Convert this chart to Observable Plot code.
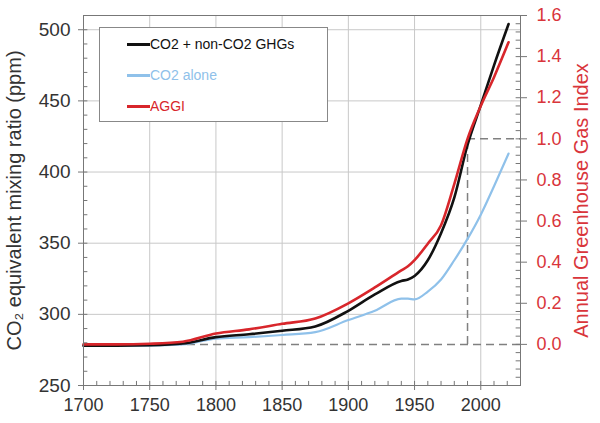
<!DOCTYPE html>
<html><head><meta charset="utf-8">
<script src="https://cdn.jsdelivr.net/npm/d3@7"></script>
<script src="https://cdn.jsdelivr.net/npm/@observablehq/plot@0.6"></script>
<style>
body{margin:0;background:#fff;font-family:"Liberation Sans",Arial,sans-serif;}
#wrap{position:relative;width:600px;height:423px;overflow:hidden;}
#legend{position:absolute;left:99px;top:27px;width:227px;height:93px;border:1.5px solid #888;background:#fff;font-size:14px;}
.item{position:absolute;left:27px;display:flex;align-items:center;height:16px;}
.sw{width:23px;height:0;border-top:3px solid;}
</style></head><body><div id="wrap"><div id="chart"></div><div id="legend"></div></div>
<script>
// ---- data ----
const years  = [1700, 1725, 1750, 1775, 1800, 1825, 1850, 1875, 1900, 1920, 1940, 1945, 1950, 1960, 1970, 1980, 1990, 2000, 2010, 2021];
const co2eq  = [278, 278, 278.3, 279.5, 284, 286, 288.5, 291.5, 302.5, 314, 323.5, 324.5, 327, 338, 357, 382, 419, 447, 475, 504];
const co2    = [278, 278, 278, 278.8, 283, 284, 285.5, 287.5, 296, 302.5, 311, 311, 310.5, 316, 324.5, 338, 353, 370, 390, 413];
const aggi   = [0, 0, 0.003, 0.013, 0.053, 0.073, 0.10, 0.126, 0.20, 0.277, 0.36, 0.38, 0.41, 0.49, 0.58, 0.78, 1.0, 1.16, 1.30, 1.47];

const seriesNames  = ["CO2 + non-CO2 GHGs", "CO2 alone", "AGGI"];
const seriesColors = ["#111111", "#8fc1ea", "#d8262b"];

const xTicks    = [1700, 1750, 1800, 1850, 1900, 1950, 2000];
const yTicks    = [250, 300, 350, 400, 450, 500];
const aggiTicks = [0.0, 0.2, 0.4, 0.6, 0.8, 1.0, 1.2, 1.4, 1.6];
const baseYear  = 1990;

const xDomain    = [1700, 2030];
const ppmDomain  = [250, 510];
const aggiDomain = [-0.2, 1.6];

// AGGI -> left-axis (ppm) coordinates
const toPpm = d3.scaleLinear().domain(aggiDomain).range(ppmDomain);

const rows = years.map((y, i) => ({year: y, co2eq: co2eq[i], co2: co2[i], aggi: aggi[i]}));

const xMinor = d3.range(1700, 2031, 10);
const yMinor = d3.range(250, 511, 10);
const aMinor = d3.range(-0.2, 1.6001, 0.04).map(v => +v.toFixed(2));
// inward minor tick length expressed as a small fraction of each domain
const xLen = (xDomain[1] - xDomain[0]) * 0.01;
const yLen = (ppmDomain[1] - ppmDomain[0]) * 0.011;

const red = "#d9353b";
const axisStroke = "#777";
const font = "Liberation Sans, Arial, sans-serif";
const fmtAggi = v => { const a = toPpm.invert(v); return Math.abs(a) < 1e-9 ? "0.0" : a.toFixed(1); };

const chart = Plot.plot({
  width: 600, height: 423,
  marginLeft: 83, marginRight: 80, marginTop: 15, marginBottom: 38,
  style: {fontFamily: font, background: "#fff"},
  x: {domain: xDomain},
  y: {domain: ppmDomain},
  marks: [
    Plot.gridX(xTicks.slice(1), {stroke: "#c8c8c8", strokeOpacity: 1}),
    Plot.gridY(yTicks.slice(1), {stroke: "#c8c8c8", strokeOpacity: 1}),
    Plot.ruleY([toPpm(0)], {stroke: "#808080", strokeWidth: 1.5, strokeDasharray: "8,5"}),
    Plot.ruleX([baseYear], {y1: toPpm(0), y2: toPpm(1), stroke: "#808080", strokeWidth: 1.5, strokeDasharray: "8,5"}),
    Plot.ruleY([toPpm(1)], {x1: baseYear, x2: xDomain[1], stroke: "#808080", strokeWidth: 1.5, strokeDasharray: "8,5"}),
    Plot.line(rows, {x: "year", y: "co2", stroke: seriesColors[1], strokeWidth: 2.2, curve: "monotone-x"}),
    Plot.line(rows, {x: "year", y: "co2eq", stroke: seriesColors[0], strokeWidth: 2.6, curve: "monotone-x"}),
    Plot.line(rows, {x: "year", y: d => toPpm(d.aggi), stroke: seriesColors[2], strokeWidth: 2.6, curve: "monotone-x"}),
    // inward minor ticks
    Plot.ruleY(yMinor, {x1: xDomain[0], x2: xDomain[0] + xLen, stroke: axisStroke}),
    Plot.ruleX(xMinor, {y1: ppmDomain[0], y2: ppmDomain[0] + yLen, stroke: axisStroke}),
    Plot.ruleY(aMinor.map(toPpm), {x1: xDomain[1] - xLen, x2: xDomain[1], stroke: axisStroke}),
    Plot.frame({stroke: axisStroke}),
    // left axis
    Plot.axisY({ticks: yTicks, tickSize: 5, tickPadding: 8, fontSize: 19, color: "#333", stroke: axisStroke,
      label: "CO₂ equivalent mixing ratio (ppm)", labelAnchor: "center", labelArrow: "none", labelOffset: 77}),
    // bottom axis
    Plot.axisX({ticks: xTicks, tickSize: 5, tickPadding: 8, fontSize: 18, color: "#333", stroke: axisStroke,
      tickFormat: d => String(d), label: null}),
    // right axis (AGGI)
    Plot.axisY({anchor: "right", ticks: aggiTicks.map(toPpm), tickSize: 6, tickPadding: 10, fontSize: 18,
      tickFormat: fmtAggi, color: red, stroke: axisStroke,
      label: "Annual Greenhouse Gas Index", labelAnchor: "center", labelArrow: "none", labelOffset: 67})
  ]
});
document.getElementById("chart").appendChild(chart);

// larger axis titles
chart.querySelectorAll("[aria-label='y-axis label'] text").forEach(t => t.style.fontSize = "20px");

// legend
const legend = document.getElementById("legend");
const tops = [8, 39, 70];
seriesNames.forEach((name, i) => {
  const it = document.createElement("div");
  it.className = "item";
  it.style.top = tops[i] + "px";
  it.innerHTML = `<span class="sw" style="border-color:${seriesColors[i]}"></span><span style="color:${seriesColors[i]}">${name}</span>`;
  legend.appendChild(it);
});
</script></body></html>
